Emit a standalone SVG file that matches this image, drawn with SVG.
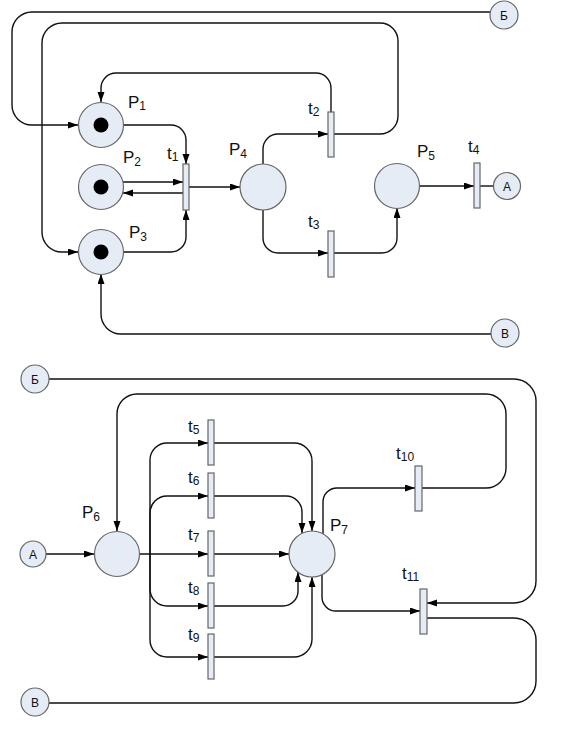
<svg xmlns="http://www.w3.org/2000/svg" width="569" height="729" viewBox="0 0 569 729">
<style>
.pl{fill:#E6ECF6;stroke:#666;stroke-width:1.2}
.tr{fill:#E6ECF6;stroke:#666;stroke-width:1.2}
.tk{fill:#000}
.c path{fill:none;stroke:#111;stroke-width:1.4}
.a{marker-end:url(#ah)}
.lb{font-family:"Liberation Sans",Arial,sans-serif;font-size:17px;fill:#111}
.lb tspan{font-size:12px}
.cl{font-family:"Liberation Sans",Arial,sans-serif;font-size:12px;fill:#111;text-anchor:middle}
</style>
<defs>
<marker id="ah" markerUnits="userSpaceOnUse" markerWidth="11" markerHeight="8" refX="10" refY="3.5" orient="auto">
<path d="M0,0 L10,3.5 L0,7 z" fill="#000"/>
</marker>
</defs>
<rect width="569" height="729" fill="#fff"/>
<g class="c" id="connectors">
<path class="a" d="M490,12 H32 A20,20 0 0 0 12,32 V105 A20,20 0 0 0 32,125 H78"/>
<path class="a" d="M334,134 H380 A18,18 0 0 0 398,116 V41 A18,18 0 0 0 380,23 H62 A20,20 0 0 0 42,43 V232 A20,20 0 0 0 62,252 H78"/>
<path class="a" d="M331,112 V88 A15,15 0 0 0 316,73 H116 A15,15 0 0 0 101,88 V102"/>
<path class="a" d="M124,125 H171 A15,15 0 0 1 186,140 V164"/>
<path class="a" d="M123,182 H183"/>
<path class="a" d="M183,193 H123"/>
<path class="a" d="M186,187 H240"/>
<path class="a" d="M124,252 H171 A15,15 0 0 0 186,237 V210"/>
<path class="a" d="M263,164 V149 A15,15 0 0 1 278,134 H328"/>
<path class="a" d="M263,210 V238 A15,15 0 0 0 278,253 H328"/>
<path class="a" d="M334,253 H382 A15,15 0 0 0 397,238 V208"/>
<path class="a" d="M419,186 H474"/>
<path d="M480,186 H493"/>
<path class="a" d="M491,334 H121 A20,20 0 0 1 101,314 V274"/>
<path class="a" d="M49,379 H514 A22,22 0 0 1 536,401 V581 A22,22 0 0 1 514,603 H427"/>
<path d="M427,618 H514 A22,22 0 0 1 536,640 V681 A22,22 0 0 1 514,703 H49"/>
<path class="a" d="M46,554 H94"/>
<path class="a" d="M422,488 H486 A20,20 0 0 0 506,468 V414 A20,20 0 0 0 486,394 H137 A20,20 0 0 0 117,414 V531"/>
<path class="a" d="M323,534 V502 A14,14 0 0 1 337,488 H415"/>
<path class="a" d="M322,575 V597 A14,14 0 0 0 336,611 H420"/>
<path class="a" d="M139,554 H208"/>
<path class="a" d="M150,554 V460 A17,17 0 0 1 167,443 H208"/>
<path class="a" d="M150,554 V513 A17,17 0 0 1 167,496 H208"/>
<path class="a" d="M150,554 V589 A17,17 0 0 0 167,606 H208"/>
<path class="a" d="M150,554 V640 A17,17 0 0 0 167,657 H208"/>
<path class="a" d="M214,443 H294 A18,18 0 0 1 312,461 V531"/>
<path class="a" d="M214,496 H286 A16,16 0 0 1 302,512 V533"/>
<path class="a" d="M214,554 H289"/>
<path class="a" d="M214,606 H283 A15,15 0 0 0 298,591 V572"/>
<path class="a" d="M214,657 H294 A18,18 0 0 0 312,639 V577"/>
</g>
<g id="P1"><circle class="pl" cx="101" cy="125" r="22.5"/><circle class="tk" cx="101" cy="125" r="7.5"/><text class="lb" x="128" y="108">P<tspan dy="2">1</tspan></text></g>
<g id="P2"><circle class="pl" cx="101" cy="187" r="22.5"/><circle class="tk" cx="101" cy="187" r="7.5"/><text class="lb" x="123" y="163">P<tspan dy="3">2</tspan></text></g>
<g id="P3"><circle class="pl" cx="101" cy="252" r="22.5"/><circle class="tk" cx="101" cy="252" r="7.5"/><text class="lb" x="129" y="238">P<tspan dy="3">3</tspan></text></g>
<g id="P4"><circle class="pl" cx="263" cy="187" r="23"/><text class="lb" x="229" y="155">P<tspan dy="3">4</tspan></text></g>
<g id="P5"><circle class="pl" cx="397" cy="186" r="22.5"/><text class="lb" x="417" y="157">P<tspan dy="3">5</tspan></text></g>
<g id="P6"><circle class="pl" cx="117" cy="554" r="22.5"/><text class="lb" x="82" y="518">P<tspan dy="3">6</tspan></text></g>
<g id="P7"><circle class="pl" cx="312" cy="554" r="23"/><text class="lb" x="330" y="531">P<tspan dy="3">7</tspan></text></g>
<g id="t1"><rect class="tr" x="183" y="164" width="6" height="46"/><text class="lb" x="167" y="159">t<tspan dy="2">1</tspan></text></g>
<g id="t2"><rect class="tr" x="328" y="112" width="6" height="45"/><text class="lb" x="308" y="114">t<tspan dy="2">2</tspan></text></g>
<g id="t3"><rect class="tr" x="328" y="231" width="6" height="46"/><text class="lb" x="308" y="227">t<tspan dy="2">3</tspan></text></g>
<g id="t4"><rect class="tr" x="474" y="163" width="6" height="45"/><text class="lb" x="468" y="152">t<tspan dy="2">4</tspan></text></g>
<g id="t5"><rect class="tr" x="208" y="420" width="6" height="45"/><text class="lb" x="188" y="432">t<tspan dy="2">5</tspan></text></g>
<g id="t6"><rect class="tr" x="208" y="473" width="6" height="45"/><text class="lb" x="188" y="483">t<tspan dy="2">6</tspan></text></g>
<g id="t7"><rect class="tr" x="208" y="531" width="6" height="45"/><text class="lb" x="188" y="540">t<tspan dy="2">7</tspan></text></g>
<g id="t8"><rect class="tr" x="208" y="583" width="6" height="45"/><text class="lb" x="188" y="593">t<tspan dy="2">8</tspan></text></g>
<g id="t9"><rect class="tr" x="208" y="634" width="6" height="45"/><text class="lb" x="188" y="640">t<tspan dy="2">9</tspan></text></g>
<g id="t10"><rect class="tr" x="415" y="466" width="7" height="45"/><text class="lb" x="396" y="459">t<tspan dy="2">10</tspan></text></g>
<g id="t11"><rect class="tr" x="420" y="589" width="7" height="45"/><text class="lb" x="402" y="579">t<tspan dy="2">11</tspan></text></g>
<g id="B_top"><circle class="pl" cx="504" cy="15" r="14"/><text class="cl" x="504" y="19.5">Б</text></g>
<g id="A_top"><circle class="pl" cx="507" cy="186" r="13.5"/><text class="cl" x="507" y="190.5">А</text></g>
<g id="V_top"><circle class="pl" cx="505" cy="333" r="14"/><text class="cl" x="505" y="337.5">В</text></g>
<g id="B_bot"><circle class="pl" cx="35" cy="379" r="14"/><text class="cl" x="35" y="383.5">Б</text></g>
<g id="A_bot"><circle class="pl" cx="33" cy="554" r="13"/><text class="cl" x="33" y="558.5">А</text></g>
<g id="V_bot"><circle class="pl" cx="35" cy="702" r="14"/><text class="cl" x="35" y="706.5">В</text></g>
</svg>
